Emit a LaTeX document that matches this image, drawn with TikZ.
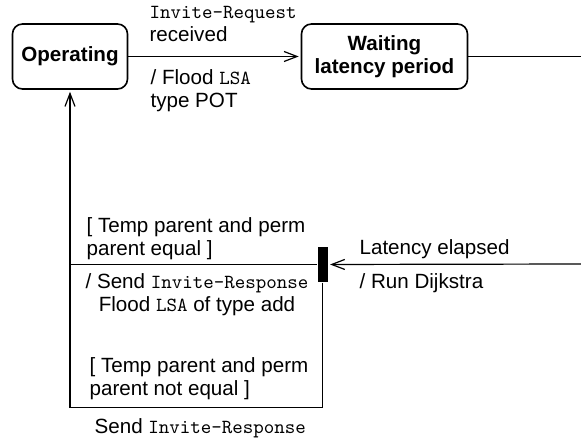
\documentclass[tikz,border=0pt]{standalone}
\usepackage{fontspec}
\setmainfont{Liberation Sans}
\usepackage{tikz}
\usetikzlibrary{arrows.meta}

\newcommand{\msg}[1]{{\ttfamily\fontsize{10}{11.5}\selectfont #1}}

\tikzset{
  state/.style={draw=black, line width=0.8pt, rounded corners=5pt, minimum height=32.5pt,
    align=center, font=\bfseries\fontsize{10.3}{11.5}\selectfont},
  lbl/.style={inner sep=0pt, anchor=west, align=left, font=\fontsize{10.3}{11.5}\selectfont}
}

\begin{document}
\begin{tikzpicture}[x=0.5pt, y=-0.5pt, line width=0.6pt,
    >={Straight Barb[length=6.5pt,width=5pt]}]
  \useasboundingbox (0,0) rectangle (581,442);

  % states
  \node[state, minimum width=57.5pt] (op) at (70,56.5) {Operating};
  \node[state, minimum width=83pt] (wait) at (384.5,56.5) {Waiting\\latency period};
  \node[fill=black, inner sep=0pt, minimum width=5pt, minimum height=17.5pt] (bar) at (322.5,264.5) {};

  % ends outside the picture
  \coordinate (out) at (581,56.5);
  \coordinate (in) at (581,264);
  \coordinate (low) at (70,407.5);

  % transitions
  \draw[->, shorten >=1pt] (op) -- (wait);
  \draw (wait) -- (out);
  \draw[->, shorten >=1pt] (in) -- (bar);
  \draw[->, shorten >=1pt] (bar.west) -| (op.south);
  \draw (bar.south) |- (low) -- (op.south |- bar.west);

  % labels
  \node[lbl] (req) at (149,23.5) {\msg{Invite-Request}\\received};
  \node[lbl] (flood) at (150,91) {/ Flood \msg{LSA}\\type POT};
  \node[lbl] (eq) at (86,238.5) {[ Temp parent and perm\\parent equal ]};
  \node[lbl, align=center] (send) at (85,295) {/ Send \msg{Invite-Response}\\Flood \msg{LSA} of type add};
  \node[lbl] (neq) at (89,378.5) {[ Temp parent and perm\\parent not equal ]};
  \node[lbl] (send2) at (94,428) {Send \msg{Invite-Response}};
  \node[lbl] (lat) at (359,249) {Latency elapsed};
  \node[lbl] (dij) at (359,283) {/ Run Dijkstra};
\end{tikzpicture}
\end{document}
